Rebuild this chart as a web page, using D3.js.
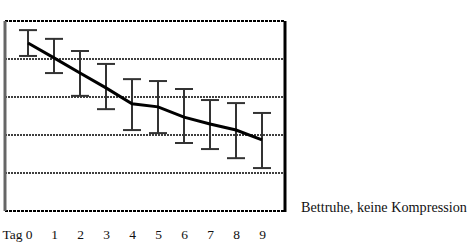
<!DOCTYPE html>
<html>
<head>
<meta charset="utf-8">
<script src="https://cdn.jsdelivr.net/npm/d3@7"></script>
<style>
body { margin: 0; background: #fff; }
svg text { font-family: "Liberation Serif", "DejaVu Serif", serif; }
</style>
</head>
<body>
<div id="chart-area"></div>
<script>
var days = [0, 1, 2, 3, 4, 5, 6, 7, 8, 9];
var means = [4.42, 4.03, 3.63, 3.24, 2.82, 2.74, 2.47, 2.29, 2.13, 1.87];
var highs = [4.76, 4.53, 4.21, 3.87, 3.47, 3.42, 3.21, 2.92, 2.84, 2.58];
var lows = [4.08, 3.63, 3.03, 2.68, 2.13, 2.05, 1.79, 1.63, 1.39, 1.13];
var gridValues = [1, 2, 3, 4];
var seriesLabel = "Bettruhe, keine Kompression";

var margin = {left: 5, top: 21};
var width = 280;
var height = 190;

var svg = d3.select('#chart-area')
.append('svg')
.attr('width', 475)
.attr('height', 250);

var g = svg.append("g")
.attr("transform", "translate(" + margin.left + ", " + margin.top + ")");

var x = d3.scaleLinear()
    .domain([0, 9])
    .range([23, 257]);

var y = d3.scaleLinear()
    .domain([0, 5])
    .range([height, 0]);

// gridlines
g.selectAll('line.grid').data(gridValues)
.enter()
.append('line')
.attr('class', 'grid')
.attr('x1', 0)
.attr('x2', width)
.attr('y1', (d) => y(d))
.attr('y2', (d) => y(d))
.attr('stroke', '#000')
.attr('stroke-width', 1.3)
.attr('stroke-dasharray', '2,1');

// top and bottom borders (dotted)
g.selectAll('line.edge').data([0, 5])
.enter()
.append('line')
.attr('class', 'edge')
.attr('x1', 0)
.attr('x2', width)
.attr('y1', (d) => y(d))
.attr('y2', (d) => y(d))
.attr('stroke', '#000')
.attr('stroke-width', 2)
.attr('stroke-dasharray', '3,1');

// left and right borders
g.append('line')
.attr('x1', 0).attr('x2', 0)
.attr('y1', y(5)).attr('y2', y(0))
.attr('stroke', '#666')
.attr('stroke-width', 3);

g.append('line')
.attr('x1', width).attr('x2', width)
.attr('y1', y(5)).attr('y2', y(0) + 1)
.attr('stroke', '#000')
.attr('stroke-width', 3);

// error bars
var bars = g.selectAll('g.err').data(days)
.enter()
.append('g')
.attr('class', 'err');

bars.append('line')
.attr('x1', (d) => x(d))
.attr('x2', (d) => x(d))
.attr('y1', (d, i) => y(highs[i]))
.attr('y2', (d, i) => y(lows[i]))
.attr('stroke', '#333')
.attr('stroke-width', 2);

bars.append('line')
.attr('x1', (d) => x(d) - 9)
.attr('x2', (d) => x(d) + 9)
.attr('y1', (d, i) => y(highs[i]))
.attr('y2', (d, i) => y(highs[i]))
.attr('stroke', '#333')
.attr('stroke-width', 2);

bars.append('line')
.attr('x1', (d) => x(d) - 9)
.attr('x2', (d) => x(d) + 9)
.attr('y1', (d, i) => y(lows[i]))
.attr('y2', (d, i) => y(lows[i]))
.attr('stroke', '#333')
.attr('stroke-width', 2);

// mean line
var line = d3.line()
.x((d) => x(d))
.y((d, i) => y(means[i]));

g.append('path')
.datum(days)
.attr('d', line)
.attr('fill', 'none')
.attr('stroke', '#000')
.attr('stroke-width', 3);

// x labels
var botAxis = d3.axisBottom(x)
.tickValues(days)
.tickSize(0)
.tickFormat((d) => d);

var ax = g.append("g")
.attr("class", "bottom axis")
.attr("transform", "translate(0, " + (height + 20) + ")")
.call(botAxis);

ax.select('.domain').remove();
ax.selectAll('text')
.attr('font-size', '13.5px')
.attr('fill', '#111')
.attr('dy', '0.4em')
.attr('font-family', '"Liberation Serif", serif');

ax.selectAll('text')
.filter((d) => d == 0)
.attr('text-anchor', 'end')
.attr('dx', '0.3em')
.text("Tag 0");

g.append("text")
.attr("x", 296)
.attr("y", height + 1)
.attr("font-size", "14.2px")
.attr("fill", "#111")
.text(seriesLabel);
</script>
</body>
</html>
